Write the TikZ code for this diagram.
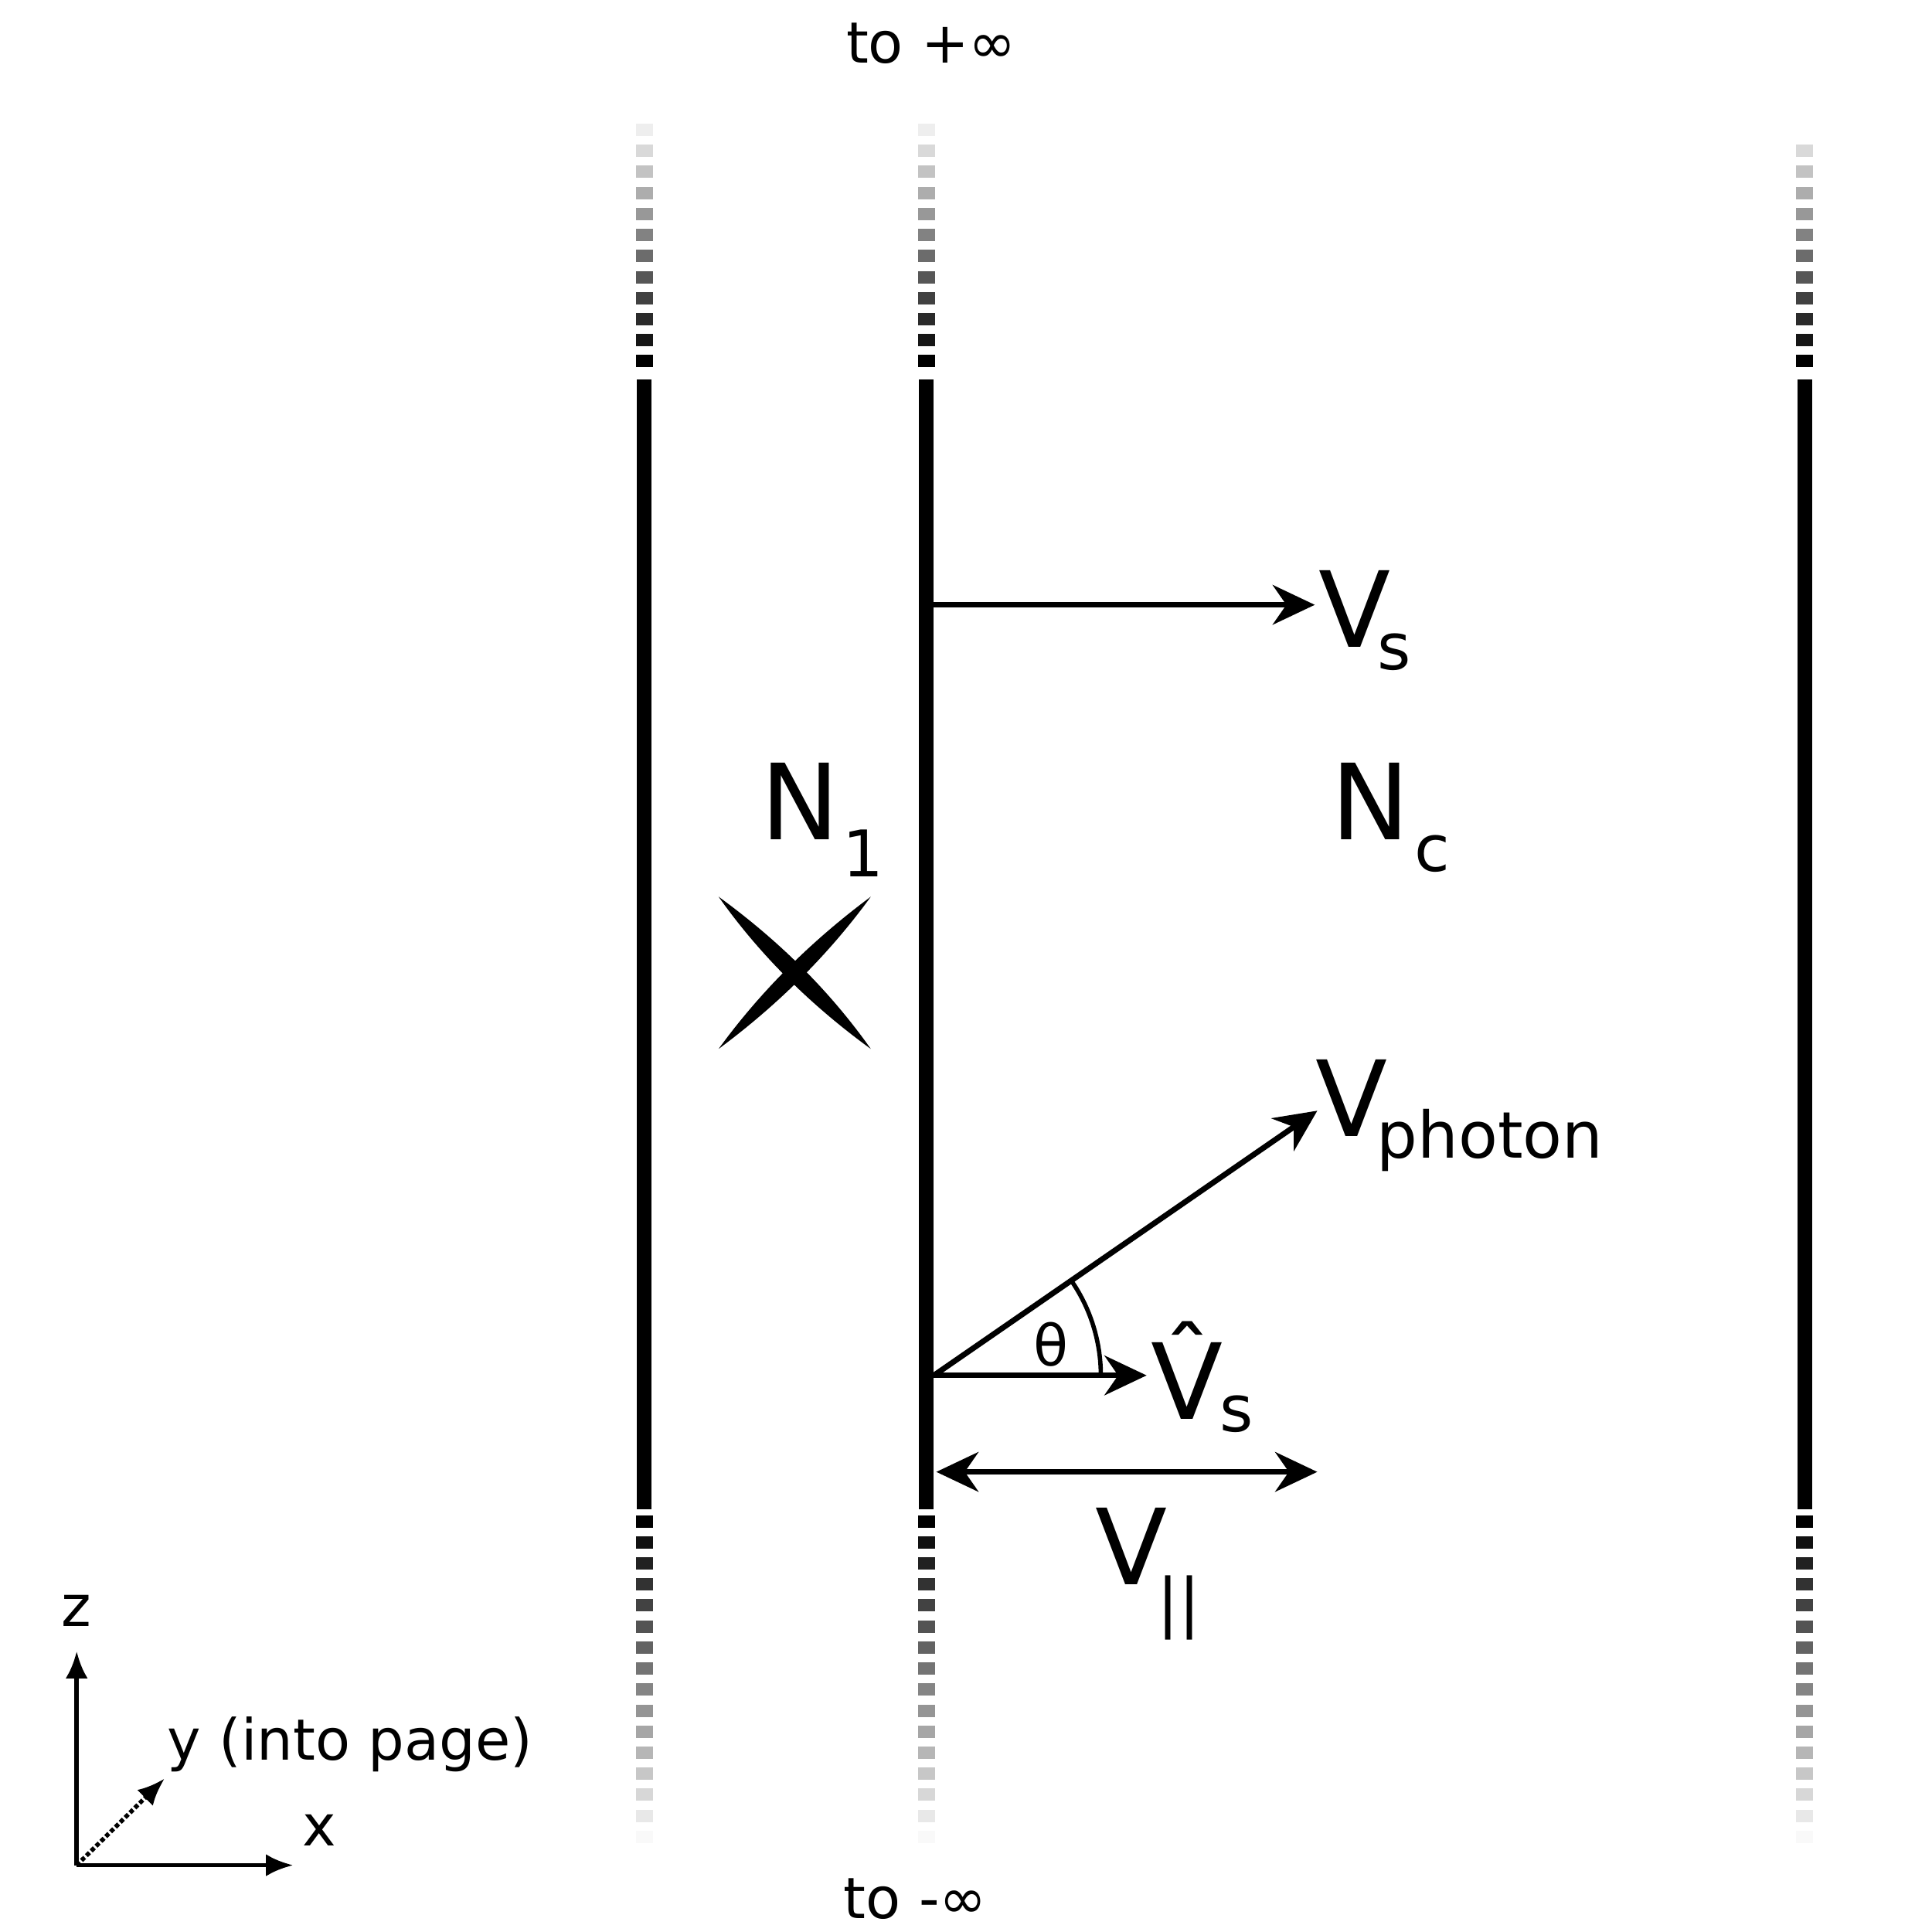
\documentclass[tikz,border=0pt]{standalone}
\usepackage{fontspec}
\setmainfont{DejaVu Sans}
\usetikzlibrary{arrows.meta,calc}
\begin{document}
\begin{tikzpicture}[x=1pt,y=-1pt]
  \tikzset{wall/.style={line width=12pt},
    vec/.style={line width=4.5pt,-{Stealth[length=34pt,width=32pt,inset=11pt]}},
    big/.style={font=\fontsize{85}{90}\selectfont,inner sep=0pt},
    sub/.style={font=\fontsize{52}{56}\selectfont,inner sep=0pt},
    lbl/.style={font=\fontsize{46}{50}\selectfont,inner sep=0pt},
    axis/.style={line width=3.5pt,-{Latex[length=22pt,width=18pt]}}}
  \useasboundingbox (0,0) rectangle (1562,1562);
  % walls
  \foreach \x/\t in {521/95,749/95,1459/110} {
    \draw[wall] (\x,307) -- (\x,1220);
    \foreach \i in {0,...,11} {
      \pgfmathsetmacro\w{100-min(100,\i*8.5)}
      \pgfmathsetmacro\yy{297-\i*17}
      \ifdim\yy pt>\t pt
        \fill[black!\w!white] (\x-7,\yy) rectangle (\x+7,\yy-10);
      \fi
    }
    \foreach \i in {0,...,15} {
      \pgfmathsetmacro\w{100-min(100,\i*6.5)}
      \pgfmathsetmacro\yy{1225+\i*17}
      \fill[black!\w!white] (\x-7,\yy) rectangle (\x+7,\yy+10);
    }
  }
  \node[lbl] (top) at (753,35) {to +∞};
  \node[lbl] (bot) at (740,1535) {to -∞};
  % vectors
  \coordinate (a) at (755,489);
  \coordinate (a2) at (1063,489);
  \coordinate (b) at (755,1112);
  \coordinate (c) at (757,1190);
  \node[big] (vs) at (1095,492) {V};
  \node[sub] (vss) at (1127,527) {s};
  \draw[vec] (a) -- (a2);
  \node[big] (n1) at (647,648) {N};
  \node[sub] (n1s) at (698,690) {1};
  \node[big] (nc) at (1108,648) {N};
  \node[sub] (ncs) at (1158,690) {c};
  % cross
  \fill (581,725) .. controls (629,760) and (670,800) .. (704,848)
        .. controls (656,813) and (615,773) .. cycle;
  \fill (704,725) .. controls (669,773) and (628,813) .. (581,848)
        .. controls (616,800) and (657,760) .. cycle;
  \node[big] (vp) at (1093,888) {V};
  \node[sub,anchor=west] (vps) at (1113,922) {photon};
  \coordinate (p) at (1065,898);
  \draw[vec] (b) -- (p);
  \coordinate (h) at (927,1112);
  \draw[vec] (b) -- (h);
  \draw[line width=3.5pt] ($(b)+(135,0)$) arc[start angle=0,end angle=-35,radius=135];
  \node[lbl] (th) at (850,1087) {θ};
  \node[big] (vh) at (960,1108) {V̂};
  \node[sub] (vhs) at (1000,1143) {s};
  \coordinate (d) at (1065,1190);
  \draw[line width=4.5pt,{Stealth[length=34pt,width=32pt,inset=11pt]}-{Stealth[length=34pt,width=32pt,inset=11pt]}] (c) -- (d);
  \node[big] (vpar) at (915,1250) {V};
  \node[sub] (vpars) at (953,1300) {||};
  % axes
  \coordinate (o) at (62,1508);
  \coordinate (zz) at (62,1335);
  \coordinate (xx) at (237,1508);
  \coordinate (yy) at (133,1438);
  \draw[axis] (o) -- (zz);
  \draw[axis] (o) -- (xx);
  \draw[axis,dotted] (o) -- (yy);
  \node[lbl] (zl) at (62,1302) {z};
  \node[lbl] (xl) at (258,1480) {x};
  \node[lbl,anchor=west] (yl) at (135,1410) {y (into page)};
\end{tikzpicture}
\end{document}
